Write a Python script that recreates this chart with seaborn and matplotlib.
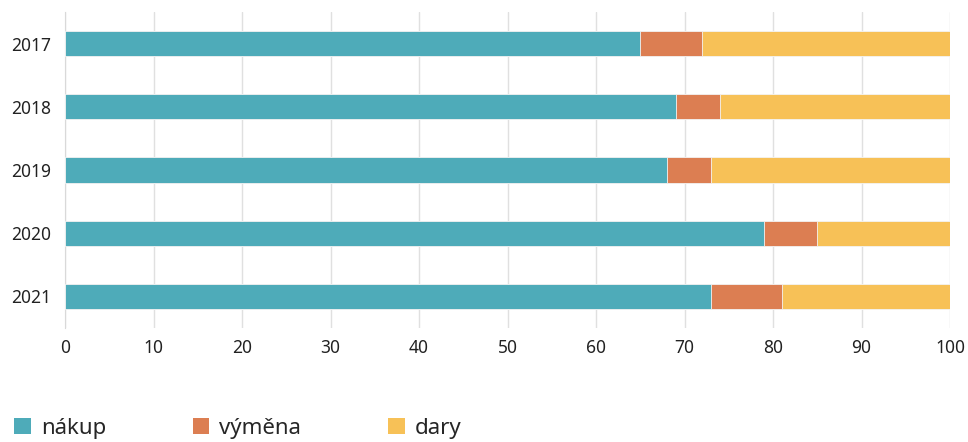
import pandas as pd
import matplotlib.pyplot as plt
import seaborn as sns
from matplotlib.patches import Patch

# Data (percent shares per year)
years = ['2017', '2018', '2019', '2020', '2021']
nakup = [65, 69, 68, 79, 73]
vymena = [7, 5, 5, 6, 8]
dary = [28, 26, 27, 15, 19]

series = ['nákup', 'výměna', 'dary']
colors = ['#4eabb9', '#dc7e52', '#f7c157']

df = pd.DataFrame({'year': years, 'nákup': nakup, 'výměna': vymena, 'dary': dary})
cum = df[series].cumsum(axis=1)
cum['year'] = df['year']

sns.set_style('white')
plt.rcParams['font.family'] = ['Source Sans Pro', 'Noto Sans', 'DejaVu Sans']

fig = plt.figure(figsize=(9.68, 4.42), dpi=100)
ax = fig.add_axes([65 / 968, 1 - 328 / 442, 885 / 968, 316 / 442])

# draw cumulative layers from the largest down so each segment shows
for name, color in reversed(list(zip(series, colors))):
    sns.barplot(data=cum, x=name, y='year', order=years, color=color,
                saturation=1, width=0.4, edgecolor='#f4f4f4', linewidth=0.6,
                ax=ax, orient='h', zorder=3)

ax.set_xlim(0, 100)
ax.set_xticks(range(0, 101, 10))
ax.xaxis.grid(True, color='#e0e0e0', linewidth=1, zorder=0)
ax.set_axisbelow(True)
ax.set_xlabel('')
ax.set_ylabel('')
for s in ['top', 'right', 'bottom']:
    ax.spines[s].set_visible(False)
ax.spines['left'].set_color('#d9d9d9')
ax.tick_params(axis='both', length=0, labelsize=12.5, colors='#222222')
ax.tick_params(axis='x', pad=8)
ax.tick_params(axis='y', pad=10)

handles = [Patch(facecolor=c, edgecolor='none', label=n) for n, c in zip(series, colors)]
fig.legend(handles=handles, loc='lower left', bbox_to_anchor=(-0.006, -0.038),
           ncol=3, frameon=False, fontsize=16, handlelength=0.75, handleheight=0.75,
           handletextpad=0.45, columnspacing=3.9)

fig.savefig('out.png', dpi=100)
